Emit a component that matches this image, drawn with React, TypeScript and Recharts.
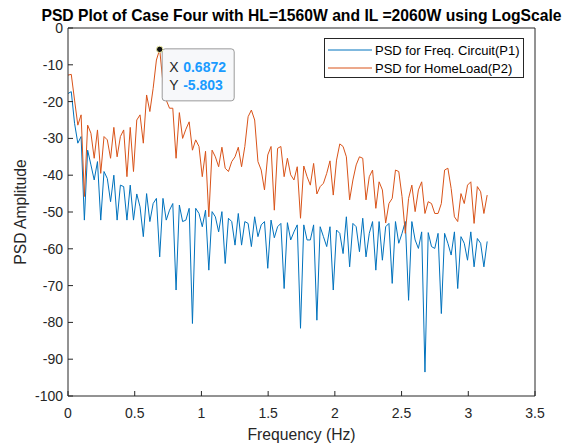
import React from 'react';
import { LineChart, Line, XAxis, YAxis, Legend, ReferenceDot, Label } from 'recharts';

// Frequency grid: 129 samples from 0 to pi (step pi/128)
const FREQ_STEP = Math.PI / 128;

// PSD for Freq. Circuit (P1)
const P1_VALUES = [
  -17.8, -17.3, -25.9, -31.3, -29.5, -52.2, -33.2, -37.2, -41.3, -36.3,
  -52.2, -39.0, -40.9, -47.2, -40.0, -52.2, -42.7, -43.1, -52.2, -42.7,
  -52.2, -45.1, -48.6, -56.7, -45.0, -52.6, -47.7, -46.3, -62.2, -46.3,
  -52.2, -49.5, -47.7, -71.2, -48.1, -52.6, -52.2, -49.0, -80.3, -49.0,
  -50.4, -54.0, -49.5, -65.8, -49.9, -51.3, -55.4, -49.9, -64.0, -51.7,
  -52.6, -59.0, -50.4, -59.0, -52.6, -53.1, -59.4, -51.3, -56.7, -53.5,
  -52.6, -65.3, -52.2, -57.0, -54.0, -53.1, -70.8, -52.9, -57.6, -55.4,
  -53.5, -81.6, -53.5, -57.6, -57.6, -53.5, -79.4, -54.0, -56.7, -59.4,
  -54.0, -71.2, -54.9, -55.8, -61.3, -51.3, -64.9, -53.1, -54.0, -60.8,
  -51.7, -62.2, -55.8, -52.6, -65.8, -52.6, -63.1, -54.0, -53.1, -69.4,
  -52.6, -58.5, -55.8, -52.6, -74.0, -52.6, -57.6, -59.9, -55.4, -93.5,
  -55.6, -59.4, -59.9, -55.8, -77.6, -55.8, -58.5, -61.7, -55.4, -70.8,
  -56.7, -58.5, -63.1, -55.4, -64.9, -57.2, -58.5, -64.9, -58.0,
];

// PSD for HomeLoad (P2)
const P2_VALUES = [
  -12.8, -12.6, -19.6, -26.4, -23.6, -45.8, -26.4, -28.6, -35.4, -27.7,
  -39.5, -29.5, -30.4, -35.4, -27.0, -35.0, -29.5, -27.7, -40.4, -27.0,
  -39.0, -25.0, -23.6, -31.3, -18.2, -22.7, -16.4, -8.7, -5.803, -15.0,
  -19.6, -21.8, -21.8, -35.4, -23.0, -30.0, -27.5, -25.5, -33.2, -30.4,
  -32.2, -40.4, -33.5, -51.3, -33.2, -35.0, -37.7, -32.4, -38.1, -39.0,
  -36.3, -35.0, -32.4, -37.7, -32.2, -24.1, -22.3, -25.0, -36.3, -38.6,
  -44.0, -34.5, -32.2, -49.5, -32.7, -32.2, -40.4, -35.4, -39.9, -41.3,
  -37.7, -51.7, -37.5, -40.4, -42.7, -36.8, -45.1, -43.1, -42.2, -39.5,
  -36.1, -45.4, -35.9, -31.5, -32.2, -35.0, -46.7, -41.3, -37.2, -35.0,
  -35.4, -46.7, -40.4, -38.6, -49.0, -41.8, -44.0, -53.0, -47.7, -46.3,
  -38.6, -39.0, -45.8, -55.8, -46.3, -42.7, -49.9, -44.0, -41.8, -50.4,
  -47.2, -47.7, -50.4, -50.4, -47.7, -38.6, -38.1, -43.6, -51.3, -52.6,
  -45.0, -47.7, -42.7, -41.8, -53.1, -43.1, -44.5, -50.4, -45.4,
];

const X_TICKS = [0, 0.5, 1, 1.5, 2, 2.5, 3, 3.5];
const Y_TICKS = [-100, -90, -80, -70, -60, -50, -40, -30, -20, -10, 0];

const SERIES_NAMES = ['PSD for Freq. Circuit(P1)', 'PSD for HomeLoad(P2)'];
const TITLE = 'PSD Plot of Case Four with HL=1560W and IL =2060W using LogScale';
const X_LABEL = 'Frequency (Hz)';
const Y_LABEL = 'PSD Amplitude';

const TIP_X = 0.6872;
const TIP_Y = -5.803;

const BLUE = '#0072BD';
const ORANGE = '#D95319';
const AXIS = '#262626';
const FONT = "'Liberation Sans', Arial, Helvetica, sans-serif";

const data = P1_VALUES.map((v, i) => ({ f: i * FREQ_STEP, p1: v, p2: P2_VALUES[i] }));

const TitleLabel = (props: any) => {
  const vb = props.viewBox || {};
  return (
    <text
      x={vb.x + vb.width / 2}
      y={vb.y - 6}
      textAnchor="middle"
      fontFamily={FONT}
      fontSize={15.7}
      fontWeight="bold"
      fill="#000"
    >
      {TITLE}
    </text>
  );
};

const XLabel = (props: any) => {
  const vb = props.viewBox || {};
  return (
    <text
      x={vb.x + vb.width / 2}
      y={vb.y + 44}
      textAnchor="middle"
      fontFamily={FONT}
      fontSize={15.7}
      fill={AXIS}
    >
      {X_LABEL}
    </text>
  );
};

const YLabel = (props: any) => {
  const vb = props.viewBox || {};
  const x = vb.x + 26;
  const y = vb.y + vb.height / 2;
  return (
    <text
      x={x}
      y={y}
      transform={`rotate(-90, ${x}, ${y})`}
      textAnchor="middle"
      fontFamily={FONT}
      fontSize={15.7}
      fill={AXIS}
    >
      {Y_LABEL}
    </text>
  );
};

const LegendBox = () => (
  <svg width={200} height={40} style={{ display: 'block' }}>
    <rect x={0.5} y={0.5} width={199} height={39} fill="#fff" stroke={AXIS} strokeWidth={1} />
    <line x1={4} x2={48} y1={12} y2={12} stroke={BLUE} strokeWidth={1} />
    <text x={51} y={12} dominantBaseline="central" fontFamily={FONT} fontSize={13} fill="#000">
      {SERIES_NAMES[0]}
    </text>
    <line x1={4} x2={48} y1={30} y2={30} stroke={ORANGE} strokeWidth={1} />
    <text x={51} y={30} dominantBaseline="central" fontFamily={FONT} fontSize={13} fill="#000">
      {SERIES_NAMES[1]}
    </text>
  </svg>
);

const DataTip = (props: any) => {
  const { cx, cy } = props;
  if (cx == null || cy == null) return null;
  return (
    <g>
      <rect x={cx + 2.5} y={cy - 0.5} width={72} height={52} rx={3} ry={3} fill="#f7f8fa" stroke="#9a9a9a" strokeWidth={1} />
      <text x={cx + 9.5} y={cy + 17.3} dominantBaseline="central" fontFamily={FONT} fontSize={14} fill={AXIS}>X</text>
      <text x={cx + 23.5} y={cy + 17.3} dominantBaseline="central" fontFamily={FONT} fontSize={14} fontWeight="bold" fill="#1a9bff">{TIP_X.toFixed(4)}</text>
      <text x={cx + 9.5} y={cy + 35.6} dominantBaseline="central" fontFamily={FONT} fontSize={14} fill={AXIS}>Y</text>
      <text x={cx + 23.5} y={cy + 35.6} dominantBaseline="central" fontFamily={FONT} fontSize={14} fontWeight="bold" fill="#1a9bff">{TIP_Y.toFixed(3)}</text>
      <circle cx={cx} cy={cy} r={3.2} fill="#111" stroke="#f0f0a8" strokeWidth={1} />
    </g>
  );
};

const tickStyle = { fontFamily: FONT, fontSize: 14, fill: AXIS };

export default function App() {
  return (
    <div style={{ position: 'absolute', left: 0, top: 0, width: 570, height: 446, background: '#fff' }}>
      <LineChart
        width={570}
        height={446}
        data={data}
        margin={{ top: 27, right: 34, bottom: 0, left: 0 }}
      >
        <XAxis
          dataKey="f"
          type="number"
          domain={[0, 3.5]}
          ticks={X_TICKS}
          height={50}
          stroke={AXIS}
          tickSize={-5}
          tickMargin={17}
          tick={tickStyle}
          allowDataOverflow
        >
          <Label content={XLabel} />
        </XAxis>
        <XAxis
          xAxisId="top"
          orientation="top"
          dataKey="f"
          type="number"
          domain={[0, 3.5]}
          ticks={X_TICKS}
          height={1}
          stroke={AXIS}
          tickSize={-5}
          tick={false}
          allowDataOverflow
        >
          <Label content={TitleLabel} />
        </XAxis>
        <YAxis
          type="number"
          domain={[-100, 0]}
          ticks={Y_TICKS}
          width={68}
          stroke={AXIS}
          tickSize={-5}
          tickMargin={10}
          tick={tickStyle}
          allowDataOverflow
        >
          <Label content={YLabel} />
        </YAxis>
        <YAxis
          yAxisId="right"
          orientation="right"
          type="number"
          domain={[-100, 0]}
          ticks={Y_TICKS}
          width={1}
          stroke={AXIS}
          tickSize={-5}
          tick={false}
          allowDataOverflow
        />
        <Line
          type="linear"
          dataKey="p1"
          name={SERIES_NAMES[0]}
          stroke={BLUE}
          strokeWidth={1}
          dot={false}
          activeDot={false}
          isAnimationActive={false}
        />
        <Line
          type="linear"
          dataKey="p2"
          name={SERIES_NAMES[1]}
          stroke={ORANGE}
          strokeWidth={1}
          dot={false}
          activeDot={false}
          isAnimationActive={false}
        />
        <ReferenceDot x={TIP_X} y={TIP_Y} r={3} shape={DataTip} ifOverflow="visible" />
        <Legend
          layout="vertical"
          align="center"
          verticalAlign="middle"
          content={LegendBox}
          wrapperStyle={{ left: 324, top: 38, width: 200, height: 40 }}
        />
      </LineChart>
    </div>
  );
}
